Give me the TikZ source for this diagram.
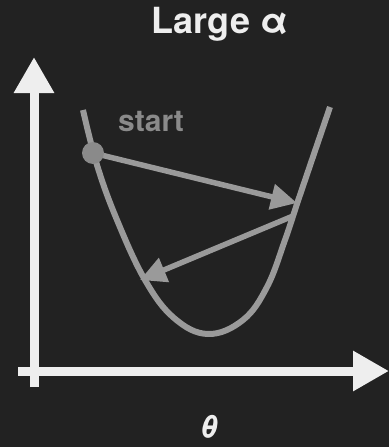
\documentclass[tikz,border=0pt]{standalone}
\usepackage{fontspec}
\setmainfont{TeX Gyre Heros}
\usetikzlibrary{arrows.meta}
\definecolor{bg}{HTML}{222222}
\definecolor{axiscol}{HTML}{EEEEEE}
\definecolor{curvecol}{HTML}{9A9A9A}
\definecolor{startcol}{HTML}{8A8A8A}
\tikzset{
  axisline/.style={draw=axiscol, line width=9pt, -{Triangle[length=36pt,width=38pt]}},
  costcurve/.style={draw=curvecol, line width=6pt, line cap=butt},
  stepline/.style={draw=curvecol, line width=5.5pt, -{Triangle[length=26pt,width=25pt]}},
}
\begin{document}
\begin{tikzpicture}[x=1pt,y=-1pt]
\fill[bg] (0,0) rectangle (389,447);
\useasboundingbox (0,0) rectangle (389,447);
% axes
\coordinate (ybot) at (34,387);
\coordinate (ytop) at (34,57);
\coordinate (xleft) at (18,371);
\coordinate (xright) at (389,371);
\draw[axisline] (ybot) -- (ytop);
\draw[axisline] (xleft) -- (xright);
% curve
\draw[costcurve] plot[smooth, tension=0.65] coordinates {(83,110) (97,165) (117,220) (145,280) (174,318) (208,334) (243,320) (267,287) (285,240) (300,195) (330,107)};
% points
\coordinate (p0) at (93,153);
\coordinate (p1) at (297,203);
\coordinate (p1s) at (293,216);
\coordinate (p2) at (140,280);
\draw[stepline] (p0) -- (p1);
\draw[stepline] (p1s) -- (p2);
\fill[startcol] (p0) circle (11);
% labels
\node[text=startcol, inner sep=0pt, font=\bfseries\fontsize{30}{30}\selectfont] (start) at (151,122) {start};
\node[text=axiscol, inner sep=0pt, font=\bfseries\fontsize{36}{36}\selectfont] (title) at (220,24) {Large α};
\node[text=axiscol, inner sep=0pt, font=\bfseries\itshape\fontsize{32}{32}\selectfont] (theta) at (209,427) {θ};
\end{tikzpicture}
\end{document}
